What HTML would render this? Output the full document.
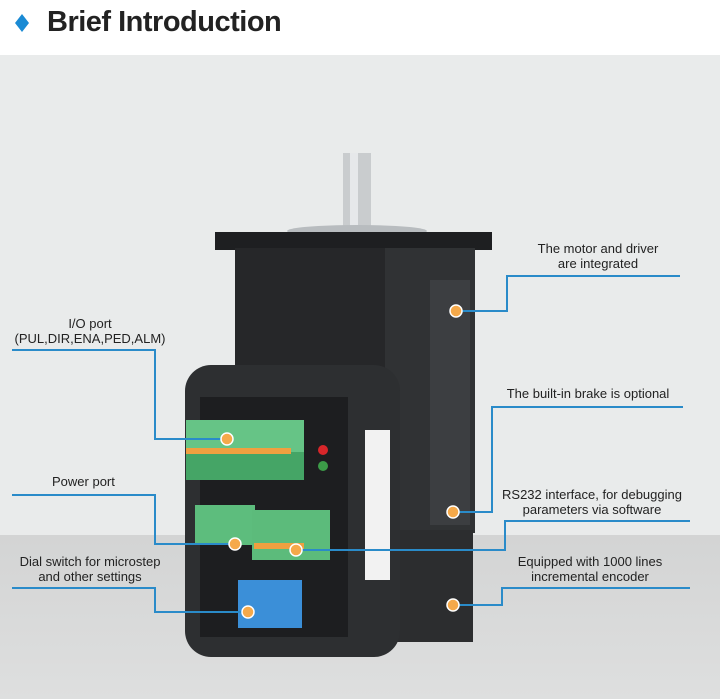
<!DOCTYPE html>
<html><head><meta charset="utf-8"><style>
*{margin:0;padding:0;box-sizing:border-box}
body{width:720px;height:699px;overflow:hidden;position:relative;font-family:"Liberation Sans",sans-serif;background:#e9ebeb}
.a{position:absolute}
.t{position:absolute;font-size:13px;color:#222;text-align:center;line-height:15px;white-space:nowrap}
</style></head><body>
<div class="a" style="left:0;top:0;width:720px;height:55px;background:#fff"></div>
<div class="a" style="left:0;top:535px;width:720px;height:164px;background:linear-gradient(#d3d4d4,#dedfdf)"></div>
<div class="a" style="left:14px;top:13px;width:22px;height:22px;"><svg width="22" height="22"><polygon points="8,1 15,10 8,19 1,10" fill="#1a8ad4"/></svg></div>
<div class="a" style="left:47px;top:6px;font-size:29px;font-weight:bold;color:#222;letter-spacing:-0.5px">Brief Introduction</div>
<svg class="a" style="left:0;top:0" width="720" height="699">
<rect x="343" y="153" width="28" height="80" fill="#c9ccce"/>
<rect x="350" y="153" width="8" height="80" fill="#e6e8ea"/>
<ellipse cx="357" cy="231" rx="70" ry="6" fill="#b8bcbf"/>
<rect x="215" y="232" width="277" height="18" fill="#1e1f21"/>
<rect x="235" y="248" width="240" height="285" fill="#262729"/>
<rect x="385" y="248" width="90" height="285" fill="#303234"/>
<rect x="430" y="280" width="40" height="245" fill="#3c3e41"/>
<rect x="385" y="530" width="88" height="112" fill="#2c2d2f"/>
<rect x="185" y="365" width="215" height="292" rx="26" fill="#2d2f31"/>
<rect x="200" y="397" width="148" height="240" fill="#1d1e20"/>
<rect x="365" y="430" width="25" height="150" fill="#f2f2f2"/>
<rect x="186" y="420" width="118" height="32" fill="#66c486"/>
<rect x="186" y="452" width="118" height="28" fill="#45a566"/>
<rect x="186" y="448" width="105" height="6" fill="#f0a040"/>
<rect x="195" y="505" width="60" height="40" fill="#5dbd7d"/>
<rect x="252" y="510" width="78" height="50" fill="#5cbb7b"/>
<rect x="254" y="543" width="50" height="6" fill="#f0a040"/>
<rect x="238" y="580" width="64" height="48" fill="#3b8fd8"/>
<circle cx="323" cy="450" r="5" fill="#d8262a"/>
<circle cx="323" cy="466" r="5" fill="#3c9c48"/>
<g stroke="#2a8bc9" stroke-width="2" fill="none">
<polyline points="680,276 507,276 507,311 456,311"/>
<polyline points="12,350 155,350 155,439 227,439"/>
<polyline points="683,407 492,407 492,512 453,512"/>
<polyline points="12,495 155,495 155,544 235,544"/>
<polyline points="690,521 505,521 505,550 296,550"/>
<polyline points="12,588 155,588 155,612 248,612"/>
<polyline points="690,588 502,588 502,605 453,605"/>
</g>
<g fill="#f5a94a" stroke="#fff" stroke-width="1.5">
<circle cx="456" cy="311" r="6"/><circle cx="227" cy="439" r="6"/>
<circle cx="453" cy="512" r="6"/><circle cx="235" cy="544" r="6"/>
<circle cx="296" cy="550" r="6"/><circle cx="248" cy="612" r="6"/>
<circle cx="453" cy="605" r="6"/>
</g>
</svg>
<div class="t" style="left:598px;top:241px;transform:translateX(-50%)">The motor and driver<br>are integrated</div>
<div class="t" style="left:90px;top:316px;transform:translateX(-50%)">I/O port<br>(PUL,DIR,ENA,PED,ALM)</div>
<div class="t" style="left:588px;top:386px;transform:translateX(-50%)">The built-in brake is optional</div>
<div class="t" style="left:52px;top:474px">Power port</div>
<div class="t" style="left:592px;top:487px;transform:translateX(-50%)">RS232 interface, for debugging<br>parameters via software</div>
<div class="t" style="left:90px;top:554px;transform:translateX(-50%)">Dial switch for microstep<br>and other settings</div>
<div class="t" style="left:590px;top:554px;transform:translateX(-50%)">Equipped with 1000 lines<br>incremental encoder</div>
</body></html>
